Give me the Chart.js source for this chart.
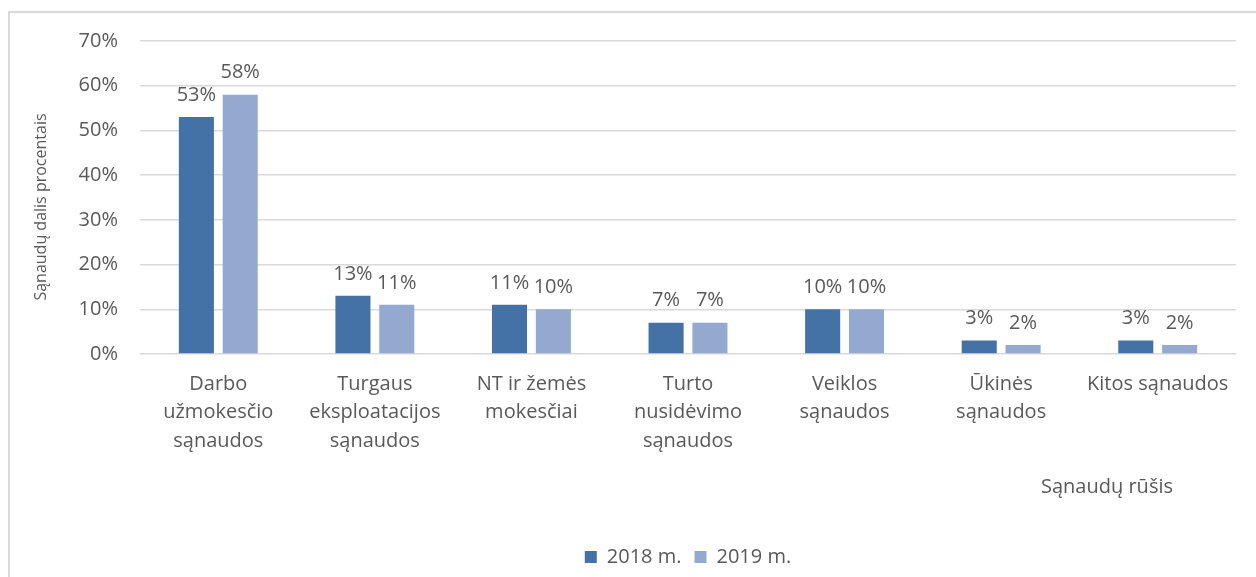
<!DOCTYPE html>
<html>
<head>
<meta charset="utf-8">
<script src="https://cdn.jsdelivr.net/npm/chart.js@4"></script>
<style>
  body { margin: 0; background: #ffffff; }
  #ramas { position: absolute; left: 8px; top: 11px; width: 1260px; height: 600px; border: 2px solid #d9d9d9; box-sizing: border-box; }
  #grafikas { position: absolute; left: 0; top: 0; }
</style>
</head>
<body>
<div id="ramas"></div>
<canvas id="grafikas" width="1256" height="577"></canvas>
<script>
// duomenys
const kategorijos = [
  ['Darbo', 'užmokesčio', 'sąnaudos'],
  ['Turgaus', 'eksploatacijos', 'sąnaudos'],
  ['NT ir žemės', 'mokesčiai'],
  ['Turto', 'nusidėvimo', 'sąnaudos'],
  ['Veiklos', 'sąnaudos'],
  ['Ūkinės', 'sąnaudos'],
  ['Kitos sąnaudos']
];
const metai2018 = [53, 13, 11, 7, 10, 3, 3];
const metai2019 = [58, 11, 10, 7, 10, 2, 2];
const yZymes = [0, 10, 20, 30, 40, 50, 60, 70];

const spalvaTamsi = '#4472a6';
const spalvaSviesi = '#94a9cf';
const tekstoSpalva = '#595959';
const sriftas = "'Open Sans', 'Noto Sans', sans-serif";

// reiksmiu uzrasai virs stulpeliu + asiu pavadinimai
const uzrasai = {
  id: 'uzrasai',
  afterDatasetsDraw (chart) {
    const ctx = chart.ctx;
    ctx.save();
    ctx.font = '20px ' + sriftas;
    ctx.fillStyle = tekstoSpalva;
    ctx.textAlign = 'center';
    ctx.textBaseline = 'middle';
    chart.data.datasets.forEach((ds, i) => {
      chart.getDatasetMeta(i).data.forEach((bar, j) => {
        ctx.fillText(ds.data[j] + '%', bar.x, bar.y - 22);
      });
    });
    const a = chart.chartArea;
    ctx.fillText('Sąnaudų rūšis', a.right - 129, 487);

    ctx.font = '16px ' + sriftas;
    ctx.translate(41, 207);
    ctx.rotate(-Math.PI / 2);
    ctx.fillText('Sąnaudų dalis procentais', 0, 0);
    ctx.restore();
  }
};

const chart = new Chart(document.getElementById('grafikas'), {
  type: 'bar',
  data: {
    labels: kategorijos,
    datasets: [
      { label: '2018 m.', data: metai2018, backgroundColor: spalvaTamsi },
      { label: '2019 m.', data: metai2019, backgroundColor: spalvaSviesi }
    ]
  },
  options: {
    responsive: false,
    animation: false,
    categoryPercentage: 0.56,
    barPercentage: 0.8,
    layout: { padding: { left: 28, right: 20, top: 41, bottom: 0 } },
    plugins: {
      legend: {
        position: 'bottom',
        fullSize: false,
        labels: {
          boxWidth: 12, boxHeight: 12, padding: 13,
          color: tekstoSpalva,
          font: { family: sriftas, size: 20 }
        }
      },
      tooltip: { enabled: false }
    },
    scales: {
      x: {
        grid: { display: false },
        border: { display: false },
        ticks: {
          color: tekstoSpalva, maxRotation: 0, autoSkip: false, padding: 8,
          font: { family: sriftas, size: 20, lineHeight: 1.42 }
        },
        afterFit: (scale) => { scale.height = 180; }
      },
      y: {
        min: 0, max: 70,
        afterBuildTicks: (scale) => { scale.ticks = yZymes.map(v => ({ value: v })); },
        grid: { color: '#d9d9d9', lineWidth: 1.5, drawTicks: false },
        border: { display: false },
        ticks: {
          color: tekstoSpalva, padding: 22,
          font: { family: sriftas, size: 20 },
          callback: (v) => v + '%'
        },
        afterFit: (scale) => { scale.width = 112; }
      }
    }
  },
  plugins: [uzrasai]
});
</script>
</body>
</html>
